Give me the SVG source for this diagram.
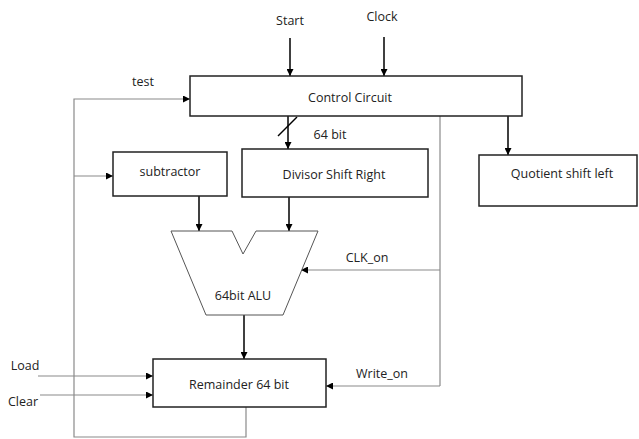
<svg xmlns="http://www.w3.org/2000/svg" width="639" height="439" viewBox="0 0 639 439">
<defs>
<marker id="ah" viewBox="0 0 10 10" refX="10" refY="5" markerWidth="7" markerHeight="7" markerUnits="userSpaceOnUse" orient="auto">
<path d="M0,0 L10,5 L0,10 z" fill="#000"/>
</marker>
<style>
.box{fill:#fff;stroke:#222;stroke-width:1.5}
.t{font-family:"Open Sans","Liberation Sans",sans-serif;font-size:12.5px;fill:#222;text-anchor:middle;dominant-baseline:central}
.k{fill:none;stroke:#000;stroke-width:1.5}
.g{fill:none;stroke:#8a8a8a;stroke-width:1.2}
</style>
</defs>
<rect width="639" height="439" fill="#fff"/>
<g id="connectors">
<line class="k" x1="290" y1="38" x2="290" y2="76" marker-end="url(#ah)"/>
<line class="k" x1="384" y1="37" x2="384" y2="76" marker-end="url(#ah)"/>
<polyline class="g" points="246,407 246,437 74,437 74,99 190,99" marker-end="url(#ah)"/>
<line class="g" x1="74" y1="176" x2="113" y2="176" marker-end="url(#ah)"/>
<line class="k" x1="288" y1="116" x2="288" y2="149" marker-end="url(#ah)"/>
<line class="k" x1="278" y1="136" x2="297" y2="117"/>
<line class="k" x1="508" y1="116" x2="508" y2="155" marker-end="url(#ah)"/>
<line class="g" x1="440" y1="116" x2="440" y2="386"/>
<line class="g" x1="440" y1="270" x2="301" y2="270" marker-end="url(#ah)"/>
<line class="g" x1="440" y1="386" x2="326" y2="386" marker-end="url(#ah)"/>
<line class="k" x1="199" y1="196" x2="199" y2="231" marker-end="url(#ah)"/>
<line class="k" x1="289" y1="197" x2="289" y2="231" marker-end="url(#ah)"/>
<line class="k" x1="244" y1="315" x2="244" y2="359" marker-end="url(#ah)"/>
<line class="g" x1="38" y1="376" x2="153" y2="376" marker-end="url(#ah)"/>
<line class="g" x1="40" y1="395" x2="153" y2="395" marker-end="url(#ah)"/>
<text class="t" x="290" y="20">Start</text>
<text class="t" x="382" y="16">Clock</text>
<text class="t" x="143" y="81">test</text>
<text class="t" x="330" y="134">64 bit</text>
<text class="t" x="367" y="257">CLK_on</text>
<text class="t" x="382" y="373">Write_on</text>
<text class="t" x="25" y="365">Load</text>
<text class="t" x="23" y="401">Clear</text>
</g>
<g id="control">
<rect class="box" x="190" y="76" width="332" height="40"/>
<text class="t" x="350" y="97">Control Circuit</text>
</g>
<g id="subtractor">
<rect class="box" x="113" y="152" width="114" height="44"/>
<text class="t" x="170" y="171">subtractor</text>
</g>
<g id="divisor">
<rect class="box" x="242" y="149" width="186" height="48"/>
<text class="t" x="334" y="174">Divisor Shift Right</text>
</g>
<g id="quotient">
<rect class="box" x="479" y="155" width="158" height="51"/>
<text class="t" x="562" y="173">Quotient shift left</text>
</g>
<g id="alu">
<path d="M171,231 L232,231 L243,254 L256,231 L318,231 L283,315 L206,315 Z" fill="#fff" stroke="#555" stroke-width="1"/>
<text class="t" x="243" y="295">64bit ALU</text>
</g>
<g id="remainder">
<rect class="box" x="153" y="359" width="173" height="48"/>
<text class="t" x="239" y="384">Remainder 64 bit</text>
</g>
</svg>
